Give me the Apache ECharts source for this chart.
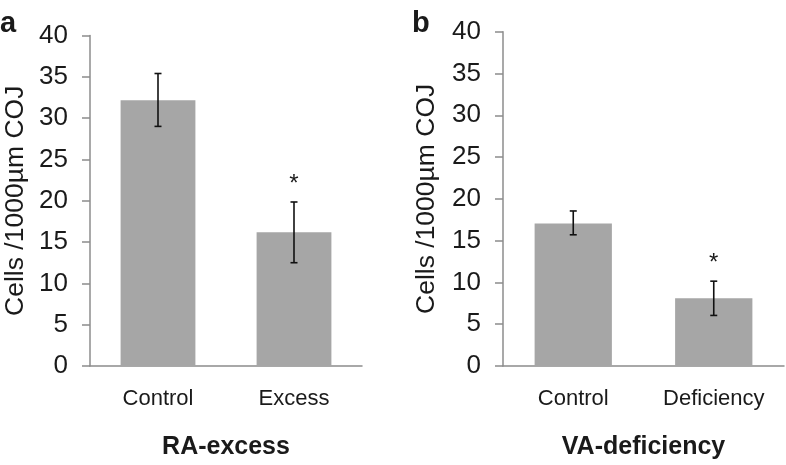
<!DOCTYPE html>
<html><head><meta charset="utf-8">
<script src="https://cdn.jsdelivr.net/npm/echarts@6/dist/echarts.min.js"></script>
<style>html,body{margin:0;padding:0;background:#fff}#c{width:786px;height:465px}</style>
</head><body><div id="c"></div>
<script>
const categoriesA = ['Control', 'Excess'];
const valuesA = [32.15, 16.2];
const errLowA = [29.0, 12.5];
const errHighA = [35.4, 19.85];
const sigA = ['', '*'];

const categoriesB = ['Control', 'Deficiency'];
const valuesB = [17.05, 8.1];
const errLowB = [15.7, 6.05];
const errHighB = [18.55, 10.15];
const sigB = ['', '*'];

const yTicks = {min: 0, max: 40, interval: 5};
const titleA = 'RA-excess';
const titleB = 'VA-deficiency';
const yName = 'Cells /1000µm COJ';

const FONT = '"Liberation Sans", Arial, sans-serif';
const axisColor = '#8c8c8c';
const textColor = '#1a1a1a';

function errSeries(idx, lows, highs, sig) {
  return {
    type: 'custom', xAxisIndex: idx, yAxisIndex: idx, z: 10,
    data: lows.map((l, i) => [i, l, highs[i], sig[i]]),
    renderItem: function (params, api) {
      const x = api.value(0);
      const lo = api.coord([x, api.value(1)]);
      const hi = api.coord([x, api.value(2)]);
      const cw = 3.5;
      const st = {stroke: '#111', lineWidth: 1.6};
      const children = [
        {type: 'line', shape: {x1: lo[0], y1: lo[1], x2: hi[0], y2: hi[1]}, style: st},
        {type: 'line', shape: {x1: hi[0] - cw, y1: hi[1], x2: hi[0] + cw, y2: hi[1]}, style: st},
        {type: 'line', shape: {x1: lo[0] - cw, y1: lo[1], x2: lo[0] + cw, y2: lo[1]}, style: st}
      ];
      const s = api.value(3);
      if (s) {
        children.push({type: 'text', style: {text: s, x: hi[0], y: hi[1] - 18, align: 'center', verticalAlign: 'middle', fill: textColor, font: '24px ' + FONT}});
      }
      return {type: 'group', children: children};
    }
  };
}

function yAxis(idx, gap) {
  return {
    type: 'value', gridIndex: idx, min: yTicks.min, max: yTicks.max, interval: yTicks.interval,
    name: yName, nameLocation: 'middle', nameGap: gap, nameRotate: 90,
    nameTextStyle: {fontFamily: FONT, fontSize: 26.5, color: textColor},
    axisLine: {show: true, lineStyle: {color: axisColor, width: 1.5}},
    axisTick: {show: true, length: 8, lineStyle: {color: axisColor, width: 1.5}},
    axisLabel: {fontFamily: FONT, fontSize: 26, color: textColor, margin: 22},
    splitLine: {show: false}
  };
}
function xAxis(idx, cats, title) {
  return {
    type: 'category', gridIndex: idx, data: cats,
    name: title, nameLocation: 'middle', nameGap: 69,
    nameTextStyle: {fontFamily: FONT, fontSize: 25, fontWeight: 'bold', color: textColor},
    axisLine: {lineStyle: {color: axisColor, width: 1.5}},
    axisTick: {show: false},
    axisLabel: {fontFamily: FONT, fontSize: 22, color: textColor, margin: 22}
  };
}

const chart = echarts.init(document.getElementById('c'), null, {renderer: 'canvas'});
chart.setOption({
  animation: false,
  backgroundColor: '#fff',
  grid: [
    {left: 90, top: 35.5, width: 272, height: 336},
    {left: 503, top: 31.7, width: 281, height: 342.6}
  ],
  xAxis: [xAxis(0, categoriesA, titleA), xAxis(1, categoriesB, titleB)],
  yAxis: [yAxis(0, 61), yAxis(1, 63)],
  graphic: [
    {type: 'text', left: 0, top: 9, style: {text: 'a', font: 'bold 29px ' + FONT, fill: textColor}},
    {type: 'text', left: 412, top: 9, style: {text: 'b', font: 'bold 29px ' + FONT, fill: textColor}}
  ],
  series: [
    {type: 'bar', xAxisIndex: 0, yAxisIndex: 0, data: valuesA, barWidth: '55%', itemStyle: {color: '#a6a6a6'}},
    {type: 'bar', xAxisIndex: 1, yAxisIndex: 1, data: valuesB, barWidth: '55%', itemStyle: {color: '#a6a6a6'}},
    errSeries(0, errLowA, errHighA, sigA),
    errSeries(1, errLowB, errHighB, sigB)
  ]
});
</script></body></html>
